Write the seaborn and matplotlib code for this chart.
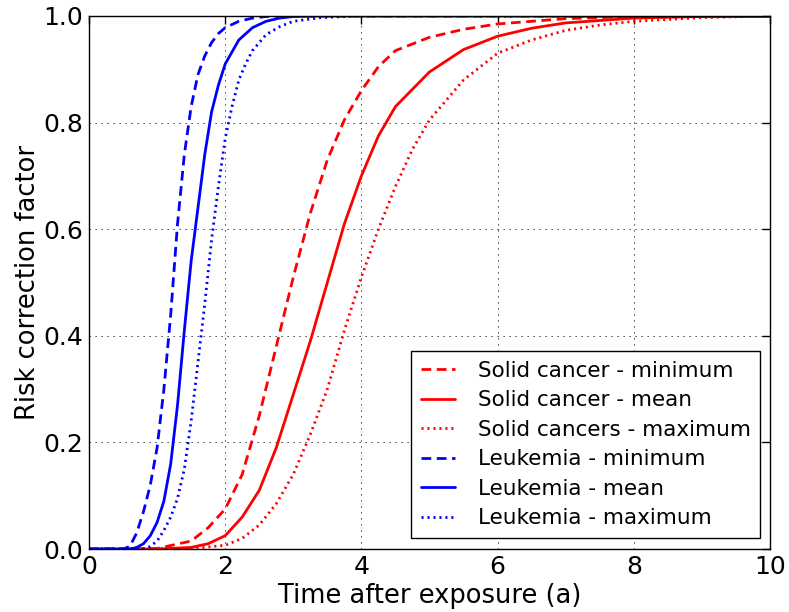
import matplotlib
matplotlib.use("Agg")
import matplotlib.pyplot as plt
import seaborn as sns
import pandas as pd

# ---- data ----
leuk_min_t = [0, 0.5, 0.6, 0.7, 0.8, 0.9, 1.0, 1.1, 1.2, 1.3, 1.4, 1.5, 1.6, 1.7, 1.8, 1.9, 2.0, 2.2, 2.4, 2.6, 3.0, 10]
leuk_min_y = [0, 0, 0.005, 0.03, 0.07, 0.12, 0.19, 0.30, 0.44, 0.61, 0.74, 0.83, 0.89, 0.925, 0.95, 0.967, 0.978, 0.99, 0.996, 0.999, 1.0, 1.0]

leuk_mean_t = [0, 0.6, 0.7, 0.8, 0.9, 1.0, 1.1, 1.2, 1.3, 1.4, 1.5, 1.6, 1.7, 1.8, 1.9, 2.0, 2.2, 2.4, 2.6, 2.8, 3.0, 3.4, 10]
leuk_mean_y = [0, 0, 0.003, 0.01, 0.025, 0.05, 0.09, 0.16, 0.27, 0.41, 0.54, 0.64, 0.74, 0.82, 0.87, 0.91, 0.955, 0.978, 0.99, 0.996, 0.999, 1.0, 1.0]

leuk_max_t = [0, 0.8, 0.9, 1.0, 1.1, 1.2, 1.3, 1.4, 1.5, 1.6, 1.7, 1.8, 1.9, 2.0, 2.1, 2.2, 2.3, 2.4, 2.6, 2.8, 3.0, 3.4, 4.0, 10]
leuk_max_y = [0, 0, 0.005, 0.015, 0.035, 0.06, 0.095, 0.15, 0.24, 0.35, 0.46, 0.58, 0.68, 0.77, 0.83, 0.88, 0.91, 0.935, 0.965, 0.98, 0.99, 0.997, 1.0, 1.0]

solid_min_t = [0, 1.0, 1.5, 1.75, 2.0, 2.25, 2.5, 2.75, 3.0, 3.25, 3.5, 3.75, 4.0, 4.25, 4.5, 5.0, 5.5, 6.0, 7.0, 8.0, 9.0, 10]
solid_min_y = [0, 0.001, 0.015, 0.04, 0.075, 0.14, 0.25, 0.38, 0.51, 0.63, 0.73, 0.805, 0.86, 0.905, 0.935, 0.96, 0.975, 0.985, 0.995, 0.999, 1.0, 1.0]

solid_mean_t = [0, 1.0, 1.5, 1.75, 2.0, 2.25, 2.5, 2.75, 3.0, 3.25, 3.5, 3.75, 4.0, 4.25, 4.5, 5.0, 5.5, 6.0, 6.5, 7.0, 8.0, 9.0, 10]
solid_mean_y = [0, 0, 0.003, 0.01, 0.025, 0.06, 0.11, 0.19, 0.29, 0.39, 0.50, 0.61, 0.70, 0.775, 0.83, 0.895, 0.937, 0.962, 0.977, 0.987, 0.996, 0.999, 1.0]

solid_max_t = [0, 1.5, 2.0, 2.25, 2.5, 2.75, 3.0, 3.25, 3.5, 3.75, 4.0, 4.25, 4.5, 4.75, 5.0, 5.5, 6.0, 6.5, 7.0, 7.5, 8.0, 9.0, 10]
solid_max_y = [0, 0.001, 0.007, 0.02, 0.045, 0.085, 0.14, 0.215, 0.30, 0.41, 0.51, 0.60, 0.68, 0.75, 0.805, 0.88, 0.93, 0.955, 0.973, 0.983, 0.99, 0.997, 1.0]

labels = ["Solid cancer - minimum", "Solid cancer - mean", "Solid cancers - maximum",
          "Leukemia - minimum", "Leukemia - mean", "Leukemia - maximum"]

DASH = (0, (3.5, 2.0))
DOT = (0, (0.75, 1.4))
series = [
    (solid_min_t, solid_min_y, "red", DASH),
    (solid_mean_t, solid_mean_y, "red", "-"),
    (solid_max_t, solid_max_y, "red", DOT),
    (leuk_min_t, leuk_min_y, "blue", DASH),
    (leuk_mean_t, leuk_mean_y, "blue", "-"),
    (leuk_max_t, leuk_max_y, "blue", DOT),
]

sns.set_theme(style="white")
plt.rcParams['font.family'] = ['DejaVu Sans']
plt.rcParams['text.color'] = 'black'

fig = plt.figure(figsize=(7.89, 6.12), dpi=100)
ax = fig.add_axes([0.1128, 0.1029, 0.8631, 0.871])

for (t, y, c, ls), lab in zip(series, labels):
    df = pd.DataFrame({"t": t, "y": y})
    sns.lineplot(data=df, x="t", y="y", ax=ax, color=c, linestyle=ls,
                 linewidth=2, label=lab)

ax.set_xlim(0, 10)
ax.set_ylim(0, 1.0)
ax.set_xticks([0, 2, 4, 6, 8, 10])
ax.set_yticks([0.0, 0.2, 0.4, 0.6, 0.8, 1.0])
ax.set_yticklabels(["0.0", "0.2", "0.4", "0.6", "0.8", "1.0"])
ax.set_xlabel("Time after exposure (a)", fontsize=18.5, color="black", labelpad=3.5)
ax.set_ylabel("Risk correction factor", fontsize=18.5, color="black", labelpad=1.5)
ax.tick_params(direction="in", top=True, right=True, length=6, width=1,
               labelsize=18, colors="black", pad=4)
ax.grid(True, color="black", linestyle=(0, (1.5, 5.7)), linewidth=0.6)
for s in ax.spines.values():
    s.set_color("black")
    s.set_linewidth(1)

leg = ax.legend(loc="lower right", fontsize=15.5, frameon=True, fancybox=False,
                handlelength=1.6, handletextpad=1.05, borderpad=0.45,
                labelspacing=0.44, borderaxespad=0,
                bbox_to_anchor=(0.986, 0.021))
leg.get_frame().set_edgecolor("black")
leg.get_frame().set_linewidth(1)
leg.get_frame().set_alpha(1)
for txt in leg.get_texts():
    txt.set_color("black")

fig.savefig("out.png", dpi=100)
